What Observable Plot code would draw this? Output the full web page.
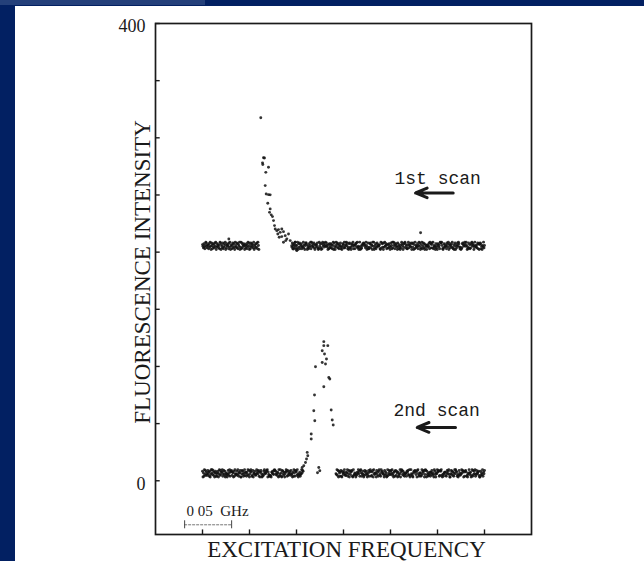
<!DOCTYPE html>
<html>
<head>
<meta charset="utf-8">
<script src="https://cdn.jsdelivr.net/npm/d3@7"></script>
<script src="https://cdn.jsdelivr.net/npm/@observablehq/plot@0.6"></script>
<style>
  html, body { margin: 0; padding: 0; }
  body { width: 644px; height: 561px; background: #022062; position: relative; overflow: hidden; }
  #topbar { position: absolute; left: 0; top: 0; width: 205px; height: 5px; background: #24407a; }
  #panel { position: absolute; left: 15px; top: 6px; width: 629px; height: 555px; background: #ffffff; }
</style>
</head>
<body>
<div id="topbar"></div>
<div id="panel"></div>
<script>
// ---- axis ticks (x in units of 0.05 GHz) ----
const xTicks = [1, 2, 3, 4, 5, 6, 7];
const yTicks = [0, 50, 100, 150, 200, 250, 300, 350, 400];
const yTickLabels = [0, 400];

// ---- 1st scan: baseline level and hand-read noise digits (0-9, centred on 4.5) ----
const scan1Level = 205.5;
const scan1LeftRange = [1.0, 2.2];
const scan1LeftNoise = "642731598426517394085173628490374625198064281375902754618390461582730953827164903918264750624715938051837462904627381950";
const scan1RightRange = [2.9, 7.0];
const scan1RightNoise = "38164729505290738164713492605886024173591947358206635820194720719468359485306172472615908305938627145813047629246958130782306749156157839240390412657876429503811378265094902571384645610928730839457162627403851929581647308416305297503789264116925743807380619254371594802691482706350563481972682915340724076351988951027364418639075257392160480624859731301278645974950318261268947503954326817068714053925";
const scan1PeakX = [2.240, 2.298, 2.319, 2.277, 2.283, 2.404, 2.347, 2.334, 2.355, 2.404, 2.440, 2.389, 2.440, 2.426, 2.462, 2.489, 2.511, 2.532, 2.547, 2.581, 2.617, 2.653, 2.687, 2.723, 2.602, 2.632, 2.687, 2.760, 2.794, 2.830, 2.723, 2.772, 2.866, 2.900, 2.936, 2.972, 3.006, 1.56, 5.64];
const scan1PeakY = [317.5, 282.5, 282.3, 278.1, 276.6, 274.2, 269.8, 258.2, 250.9, 250.3, 250.1, 242.7, 237.8, 234.8, 232.6, 231.1, 227.6, 223.2, 220.3, 218.8, 219.7, 217.3, 220.3, 217.9, 215.9, 213.0, 213.6, 214.4, 211.6, 215.9, 208.6, 210.1, 210.1, 205.7, 202.8, 208.6, 201.3, 211.5, 217];

// ---- 2nd scan ----
const scan2Level = 6.5;
const scan2LeftRange = [1.0, 3.14];
const scan2LeftNoise = "70519382642846170395938260571415704928366914837025403825916782650719433729416580048731592651639280479612804573239574816068401327954578906312120657438987342650913951087426046971825375283406195187629304261349587";
const scan2RightRange = [3.84, 7.0];
const scan2RightNoise = "439280751681075369422659148073687109235402365947189514730286374025816971268094355083617924196745308264019258373859240671827506134906983725144517683290294310576873608941255129476803980731524616385240973054968712879203145662158479300483762159497613028523495870617861204593560291837491384567200725391648";
const scan2PeakX = [3.581, 3.666, 3.581, 3.547, 3.596, 3.638, 3.617, 3.547, 3.404, 3.687, 3.709, 3.581, 3.383, 3.368, 3.389, 3.738, 3.760, 3.781, 3.313, 3.313, 3.228, 3.240, 3.213, 3.191, 3.155, 3.121, 3.474, 3.496, 3.447];
const scan2PeakY = [121.7, 118.2, 118.2, 113.8, 110.9, 106.5, 102.1, 103.5, 99.8, 90.4, 89.0, 82.3, 75.0, 61.3, 52.5, 61.9, 53.1, 48.8, 40.9, 36.5, 24.8, 21.9, 19.0, 16.0, 13.1, 11.6, 11.6, 8.8, 7.0];

// ---- annotations ----
const scanLabels = ["1st scan", "2nd scan"];
const scanLabelX = [5.085, 5.064];
const scanLabelY = [265, 61.5];
const arrowTail = [6.334, 6.383];
const arrowHead = [5.532, 5.568];
const arrowY = [251.8, 46.7];
const scaleBarText = "0 05  GHz";

// ---- build tables ----
function band(str, range, level) {
  const n = str.length;
  return Array.from(str, (c, i) => ({
    x: range[0] + (range[1] - range[0]) * i / (n - 1),
    y: level + (+c - 4.5) * 0.72
  }));
}
const points = [
  ...band(scan1LeftNoise, scan1LeftRange, scan1Level),
  ...band(scan1RightNoise, scan1RightRange, scan1Level),
  ...scan1PeakX.map((x, i) => ({x, y: scan1PeakY[i]})),
  ...band(scan2LeftNoise, scan2LeftRange, scan2Level),
  ...band(scan2RightNoise, scan2RightRange, scan2Level),
  ...scan2PeakX.map((x, i) => ({x, y: scan2PeakY[i]}))
];
const labels = scanLabels.map((t, i) => ({t, x: scanLabelX[i], y: scanLabelY[i]}));
const arrows = arrowY.map((y, i) => ({x1: arrowTail[i], x2: arrowHead[i], y}));

const serif = "'Liberation Serif', 'DejaVu Serif', serif";
const ink = "#1a1a1a";

const chart = Plot.plot({
  width: 629,
  height: 555,
  marginLeft: 140,
  marginRight: 113,
  marginTop: 17,
  marginBottom: 27,
  style: {background: "white", color: ink, fontFamily: serif},
  x: {domain: [0, 8], axis: null},
  y: {domain: [-47, 400], axis: null},
  marks: [
    Plot.frame({stroke: ink, strokeWidth: 1.7}),
    Plot.ruleY(yTicks, {y: d => d, x1: 0, x2: 0.1, stroke: ink, strokeWidth: 1.4}),
    Plot.ruleX(xTicks, {x: d => d, y1: -47, y2: -43, stroke: ink, strokeWidth: 1.4}),
    Plot.text(yTickLabels, {x: 0, y: d => d, text: d => String(d), textAnchor: "end", dx: -10, dy: 3, fontSize: 18, letterSpacing: 1.2, fontFamily: serif, fill: ink}),
    Plot.dot(points, {x: "x", y: "y", r: 1.45, fill: "#111", stroke: null, fillOpacity: 0.85}),
    Plot.text(labels, {x: "x", y: "y", text: "t", textAnchor: "start", fontFamily: "'Liberation Mono', monospace", fontSize: 18, fill: ink}),
    Plot.arrow(arrows, {x1: "x1", x2: "x2", y1: "y", y2: "y", stroke: ink, strokeWidth: 3, headLength: 13, headAngle: 45}),
    // scale bar: 0.05 GHz = one tick interval
    Plot.ruleY([-38.5], {x1: 0.62, x2: 1.62, stroke: "#777", strokeWidth: 1, strokeDasharray: "3,1"}),
    Plot.ruleX([0.62, 1.62], {x: d => d, y1: -42, y2: -35, stroke: "#444", strokeWidth: 1}),
    Plot.text([scaleBarText], {x: 0.66, y: -26.3, text: d => d, textAnchor: "start", fontSize: 15, letterSpacing: 0.5, fontFamily: serif, fill: ink}),
    // axis titles
    Plot.text(["EXCITATION FREQUENCY"], {frameAnchor: "bottom", textAnchor: "middle", lineAnchor: "middle", dx: 3, dy: 15, text: d => d, fontSize: 23, letterSpacing: 2, fontFamily: serif, fill: ink}),
    Plot.text(["FLUORESCENCE INTENSITY"], {frameAnchor: "left", textAnchor: "middle", lineAnchor: "middle", dx: -13, dy: -7, rotate: -90, text: d => d, fontSize: 23, letterSpacing: 1.9, fontFamily: serif, fill: ink})
  ]
});
chart.style.position = "absolute";
chart.style.left = "15px";
chart.style.top = "6px";
document.body.appendChild(chart);
</script>
</body>
</html>
